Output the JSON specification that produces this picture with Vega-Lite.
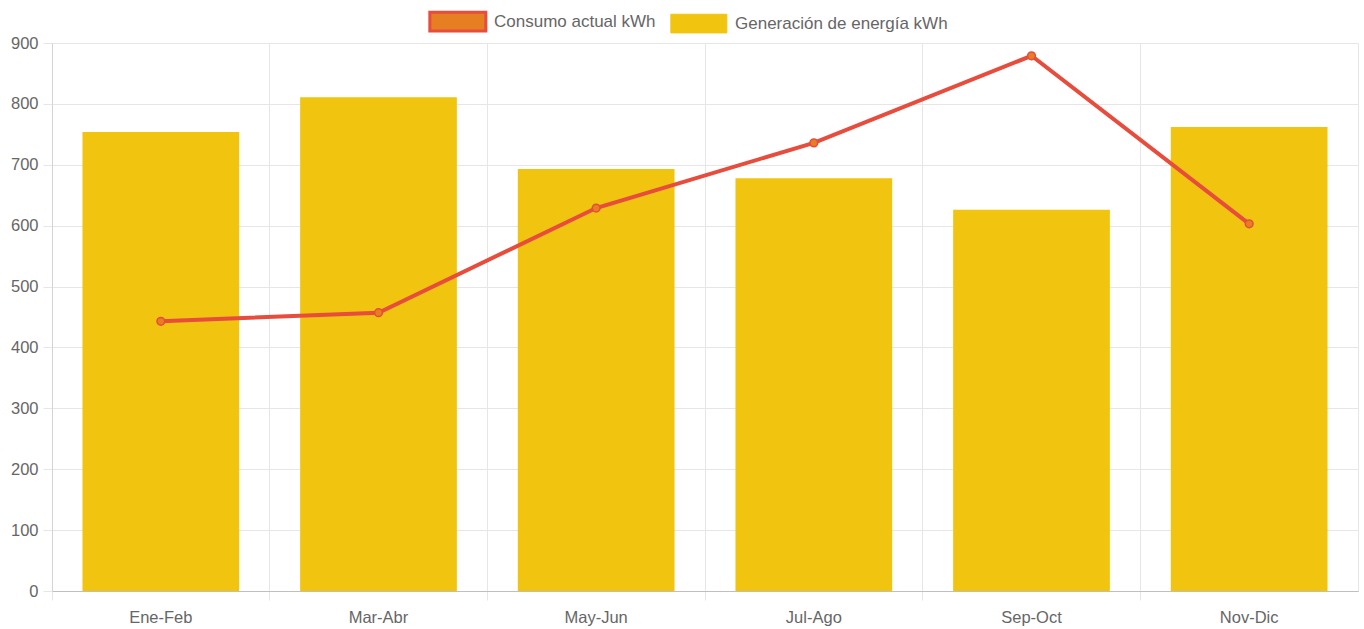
{
  "$schema": "https://vega.github.io/schema/vega-lite/v6.json",
  "width": 1306,
  "height": 548,
  "autosize": {"type": "none"},
  "padding": {"left": 52, "top": 43, "right": 6, "bottom": 38},
  "background": "white",
  "config": {
    "font": "Liberation Sans",
    "view": {"stroke": "#e6e6e6"},
    "axis": {"labelFont": "Liberation Sans", "labelColor": "#666666", "labelFontSize": 16.5, "gridColor": "#e6e6e6", "tickColor": "#e6e6e6", "domainColor": "#d4d4d4", "title": null}
  },
  "data": {
    "values": [
      {"periodo": "Ene-Feb", "generacion": 754, "consumo": 443},
      {"periodo": "Mar-Abr", "generacion": 811, "consumo": 457},
      {"periodo": "May-Jun", "generacion": 693, "consumo": 629},
      {"periodo": "Jul-Ago", "generacion": 678, "consumo": 736},
      {"periodo": "Sep-Oct", "generacion": 626, "consumo": 879},
      {"periodo": "Nov-Dic", "generacion": 762, "consumo": 603}
    ]
  },
  "encoding": {
    "x": {
      "field": "periodo", "type": "nominal", "sort": null,
      "scale": {"paddingInner": 0, "paddingOuter": 0},
      "axis": {"bandPosition": 0, "labelOffset": 0, "labelAngle": 0, "grid": true, "tickSize": 9, "labelPadding": 9, "domainColor": "#bfbfbf"}
    }
  },
  "layer": [
    {
      "mark": {"type": "bar", "width": {"band": 0.72}},
      "encoding": {
        "y": {"field": "generacion", "type": "quantitative", "scale": {"domain": [0, 900], "nice": false}, "axis": {"tickCount": 9, "tickSize": 9, "labelPadding": 5, "grid": true}},
        "fill": {
          "datum": "Generación de energía kWh",
          "type": "nominal",
          "scale": {"domain": ["Consumo actual kWh", "Generación de energía kWh"], "range": ["#e67e22", "#f1c40f"]},
          "legend": {
            "orient": "none", "direction": "horizontal", "title": null,
            "legendX": 388, "legendY": -30,
            "symbolType": "M-1,-0.5H2V0.5H-1Z",
            "symbolSize": 1394,
            "symbolStrokeWidth": 3,
            "symbolOpacity": 1,
            "labelFontSize": 17, "labelColor": "#666666", "labelFont": "Liberation Sans",
            "labelOffset": 37, "labelLimit": 400, "columnPadding": 12,
            "encode": {"symbols": {"update": {"stroke": {"signal": "datum.value === 'Consumo actual kWh' ? '#e74c3c' : '#f1c40f'"}, "strokeWidth": {"signal": "datum.value === 'Consumo actual kWh' ? 3 : 1"}}}}
          }
        }
      }
    },
    {
      "mark": {"type": "line", "color": "#e74c3c", "strokeWidth": 4},
      "encoding": {"y": {"field": "consumo", "type": "quantitative"}}
    },
    {
      "mark": {"type": "point", "filled": true, "size": 60, "stroke": "#e74c3c", "strokeWidth": 1.5, "opacity": 1},
      "encoding": {
        "y": {"field": "consumo", "type": "quantitative"},
        "fill": {"datum": "Consumo actual kWh", "type": "nominal"}
      }
    }
  ]
}
